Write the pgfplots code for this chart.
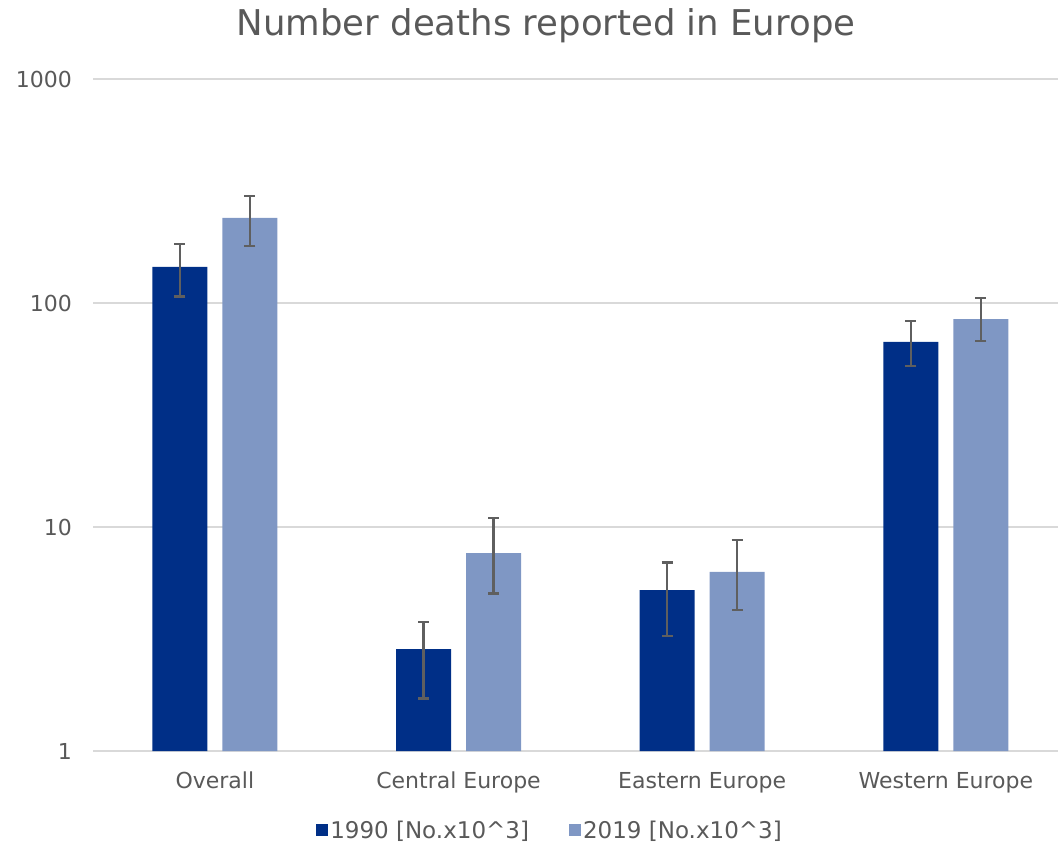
\documentclass[border=0pt]{standalone}
\usepackage{pgfplots}
\pgfplotsset{compat=1.18}
\usepackage{fontspec}
\setmainfont{DejaVu Sans}

\definecolor{darkblue}{RGB}{0,47,135}
\definecolor{lightblue}{RGB}{127,151,196}
\definecolor{txtgray}{RGB}{89,89,89}
\definecolor{gridgray}{RGB}{217,217,217}
\definecolor{errgray}{RGB}{95,95,95}

% deaths (thousands) with lower/upper uncertainty
\pgfplotstableread{
x   y     ep    em
0   145   38    38
1   2.85  0.92  1.13
2   5.23  1.70  1.97
3   67.0  16.0  14.7
}\ninety
\pgfplotstableread{
x   y     ep    em
0   240   60    60
1   7.65  3.3   2.6
2   6.30  2.45  2.04
3   84.8  20.5  17.0
}\twentynineteen

\begin{document}
\begin{tikzpicture}
\path[use as bounding box] (0,0) rectangle (1058pt,847pt);
\begin{axis}[
  at={(93pt,96pt)}, anchor=south west,
  scale only axis,
  width=965pt, height=672pt,
  ymode=log,
  ymin=1, ymax=1000,
  xmin=-0.5, xmax=3.46,
  ytick={1,10,100,1000},
  yticklabels={1,10,100,1000},
  xtick={0,1,2,3},
  xticklabels={Overall,Central Europe,Eastern Europe,Western Europe},
  ymajorgrids,
  major grid style={gridgray, line width=1.5pt},
  axis line style={draw=none},
  major tick length=0pt,
  minor tick num=0,
  yminorticks=false,
  tick label style={font=\fontsize{22}{26}\selectfont, text=txtgray},
  yticklabel style={anchor=east, inner sep=0pt, xshift=-21pt},
  xticklabel style={anchor=north, inner sep=0pt, yshift=-21pt},
  ybar, bar width=55pt,
  log origin=infty,
  legend columns=2,
  legend style={draw=none, fill=none, at={(0.4736,-0.1176)}, anchor=center,
    font=\fontsize{23}{27}\selectfont, text=txtgray,
    /tikz/every even column/.append style={column sep=38pt}},
  legend image code/.code={\fill[#1, draw=none] (0pt,-6pt) rectangle (12pt,6pt);},
  error bars/y dir=both,
  error bars/y explicit,
  error bars/error bar style={errgray, line width=2.5pt},
  error bars/error mark options={rotate=90, mark size=5.5pt, line width=2.5pt, errgray},
]
\addplot[fill=darkblue, draw=none, bar shift=-35pt]
  table[x=x, y=y, y error plus=ep, y error minus=em] {\ninety};
\addlegendentry{1990 [No.x10\^{}3]}
\addplot[fill=lightblue, draw=none, bar shift=35pt]
  table[x=x, y=y, y error plus=ep, y error minus=em] {\twentynineteen};
\addlegendentry{2019 [No.x10\^{}3]}
\end{axis}
\node[text=txtgray, font=\fontsize{35.5}{42}\selectfont] at (546pt,821pt) {Number deaths reported in Europe};
\end{tikzpicture}
\end{document}
